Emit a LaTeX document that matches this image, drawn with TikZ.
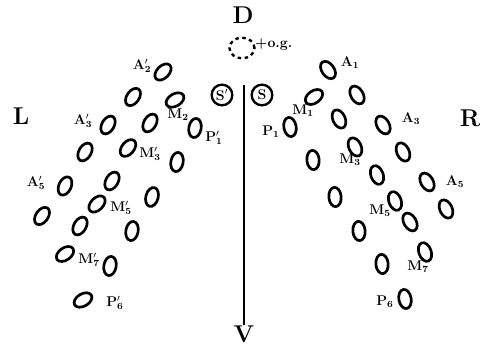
\documentclass[tikz,border=0pt]{standalone}
\usetikzlibrary{shapes.geometric}
\begin{document}
\begin{tikzpicture}[x=0.03cm,y=-0.03cm,
  ring/.style={draw,ellipse,line width=2.3pt,minimum width=0.58cm,minimum height=0.37cm,inner sep=0pt},
  lab/.style={font=\large\bfseries,inner sep=0pt},
  side/.style={font=\huge\bfseries,inner sep=0pt},
  sun/.style={draw,circle,line width=2pt,minimum size=0.62cm,inner sep=0pt,font=\large\bfseries}]
\useasboundingbox (0,0) rectangle (483,348);
\node[side] (D) at (243,15) {D};
\node[side] (V) at (244,334) {V};
\node[side] (L) at (21,116) {L};
\node[side] (R) at (470,118) {R};
\node[draw,ellipse,dashed,line width=2pt,minimum width=0.75cm,minimum height=0.62cm] (og) at (242,48) {};
\node[lab,anchor=west] (oglab) at (255,45) {+o.g.};
\node[sun] (S1) at (222,95) {S$'$};
\node[sun] (S) at (262,95) {S};
\coordinate (top) at (244,85);
\draw[line width=2.3pt] (top) -- (V.north);
% left side
\foreach \x/\y/\a [count=\i] in {163/72/45,133/97/55,175/100/30,195/128/80,108/125/60,150/123/60,
    85/152/60,128/148/50,177/162/80,65/186/65,112/181/60,152/197/75,97/204/45,42/216/55,
    80/226/60,132/231/80,65/254/35,110/266/80,83/300/30}
  \node[ring,rotate=\a] (l\i) at (\x,\y) {};
% right side
\foreach \x/\y/\a [count=\i] in {328/70/125,357/95/120,314/97/35,290/127/100,339/119/115,
    383/125/120,313/160/95,355/147/115,403/152/115,377/175/110,427/182/120,335/197/95,
    395/201/110,446/209/115,359/231/95,410/222/120,425/252/110,382/264/95,405/299/100}
  \node[ring,rotate=\a] (r\i) at (\x,\y) {};
\node[lab] (A2p) at (142,66) {$\mathbf{A'_2}$};
\node[lab] (M2) at (178,115) {$\mathbf{M_2}$};
\node[lab] (P1p) at (214,138) {$\mathbf{P'_1}$};
\node[lab] (A3p) at (83,121) {$\mathbf{A'_3}$};
\node[lab] (M3p) at (150,154) {$\mathbf{M'_3}$};
\node[lab] (A5p) at (36,183) {$\mathbf{A'_5}$};
\node[lab] (M5p) at (121,208) {$\mathbf{M'_5}$};
\node[lab] (M7p) at (89,260) {$\mathbf{M'_7}$};
\node[lab] (P6p) at (115,303) {$\mathbf{P'_6}$};
\node[lab] (A1) at (350,63) {$\mathbf{A_1}$};
\node[lab] (M1) at (303,111) {$\mathbf{M_1}$};
\node[lab] (P1) at (271,132) {$\mathbf{P_1}$};
\node[lab] (A3) at (411,119) {$\mathbf{A_3}$};
\node[lab] (M3) at (350,160) {$\mathbf{M_3}$};
\node[lab] (A5) at (455,182) {$\mathbf{A_5}$};
\node[lab] (M5) at (380,211) {$\mathbf{M_5}$};
\node[lab] (M7) at (418,267) {$\mathbf{M_7}$};
\node[lab] (P6) at (385,302) {$\mathbf{P_6}$};
\end{tikzpicture}
\end{document}
